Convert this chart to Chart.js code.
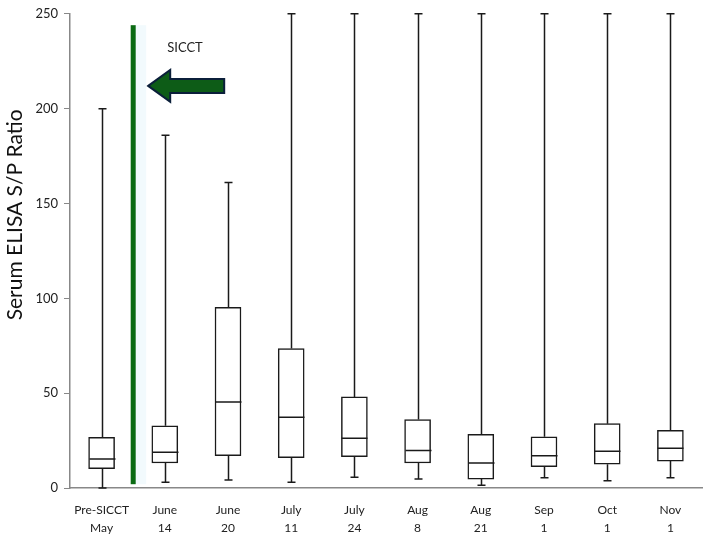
<!DOCTYPE html>
<html>
<head>
<meta charset="utf-8">
<script src="https://cdn.jsdelivr.net/npm/chart.js@4"></script>
<style>
  html, body { margin: 0; background: #fff; }
  #wrap { width: 706px; height: 534px; }
</style>
</head>
<body>
<div id="wrap"><canvas id="chart"></canvas></div>
<script>
// Datum (x-axeln, två rader per etikett)
const labels = [
  ["Pre-SICCT", "May"], ["June", "14"], ["June", "20"], ["July", "11"], ["July", "24"],
  ["Aug", "8"], ["Aug", "21"], ["Sep", "1"], ["Oct", "1"], ["Nov", "1"]
];

// boxplot-värden
const minVals = [0, 3, 4.2, 3, 5.7, 4.7, 1.4, 5.4, 3.8, 5.4];
const q1Vals  = [10.2, 13.2, 17, 16, 16.5, 13.2, 4.7, 11.3, 12.5, 14.2];
const medVals = [15.3, 18.9, 45.3, 37.3, 26.2, 19.8, 13.2, 17, 19.4, 21];
const q3Vals  = [26.7, 32.8, 95.3, 73.5, 48, 36.1, 28.3, 27, 33.9, 30.4];
const maxVals = [200, 186, 161, 250, 250, 250, 250, 250, 250, 250];

const yTicks = [0, 50, 100, 150, 200, 250];

// SICCT-markering: linjens utsträckning och pilens höjd (i y-värden)
const sicctLine = [2, 244];
const sicctArrowY = 212;
const sicctTextY = 232;

const FONT = "Lato, 'Open Sans', sans-serif";

// ritar morrhår, medianer och SICCT-markeringen med diagrammets skalor
const boxExtras = {
  id: 'boxExtras',
  beforeDatasetsDraw(chart) {
    const { ctx, scales: { x, y } } = chart;
    const lineX = (x.getPixelForValue(0) + x.getPixelForValue(1)) / 2;
    const yTop = y.getPixelForValue(sicctLine[1]);
    const yBot = y.getPixelForValue(sicctLine[0]);
    ctx.save();
    // svag ljusblå skugga
    ctx.fillStyle = '#f2fafd';
    ctx.fillRect(lineX + 2, yTop, 11, yBot - yTop);
    // grön linje
    ctx.fillStyle = '#0b6b14';
    ctx.fillRect(lineX - 2.5, yTop, 5, yBot - yTop);

    // pil
    const ay = y.getPixelForValue(sicctArrowY);
    ctx.beginPath();
    ctx.moveTo(lineX + 15, ay);
    ctx.lineTo(lineX + 37, ay - 16);
    ctx.lineTo(lineX + 37, ay - 7);
    ctx.lineTo(lineX + 91, ay - 7);
    ctx.lineTo(lineX + 91, ay + 7);
    ctx.lineTo(lineX + 37, ay + 7);
    ctx.lineTo(lineX + 37, ay + 16);
    ctx.closePath();
    ctx.fillStyle = '#0d5c17';
    ctx.fill();
    ctx.lineWidth = 2;
    ctx.strokeStyle = '#0b1f3a';
    ctx.stroke();

    ctx.fillStyle = '#222';
    ctx.font = '13px ' + FONT;
    ctx.textAlign = 'left';
    ctx.textBaseline = 'middle';
    ctx.fillText('SICCT', lineX + 34, y.getPixelForValue(sicctTextY));
    ctx.restore();
  },
  afterDatasetsDraw(chart) {
    const { ctx, scales: { x, y } } = chart;
    const half = chart.getDatasetMeta(0).data[0].width / 2;
    ctx.save();
    ctx.strokeStyle = '#1a1a1a';
    ctx.lineWidth = 1.5;
    labels.forEach((_, i) => {
      const cx = Math.round(x.getPixelForValue(i)) + 0.5;
      ctx.beginPath();
      // övre morrhår
      ctx.moveTo(cx, y.getPixelForValue(q3Vals[i]));
      ctx.lineTo(cx, y.getPixelForValue(maxVals[i]));
      ctx.moveTo(cx - 4, y.getPixelForValue(maxVals[i]));
      ctx.lineTo(cx + 4, y.getPixelForValue(maxVals[i]));
      // nedre morrhår
      ctx.moveTo(cx, y.getPixelForValue(q1Vals[i]));
      ctx.lineTo(cx, y.getPixelForValue(minVals[i]));
      ctx.moveTo(cx - 4, y.getPixelForValue(minVals[i]));
      ctx.lineTo(cx + 4, y.getPixelForValue(minVals[i]));
      // median
      ctx.moveTo(cx - half, y.getPixelForValue(medVals[i]));
      ctx.lineTo(cx + half, y.getPixelForValue(medVals[i]));
      ctx.stroke();
    });
    ctx.restore();
  }
};

// y-axelns titel (sitter högre än mitten i originalet)
const yTitle = {
  id: 'yTitle',
  afterDraw(chart) {
    const { ctx, scales: { y } } = chart;
    ctx.save();
    ctx.translate(15, y.getPixelForValue(144));
    ctx.rotate(-Math.PI / 2);
    ctx.font = '21px ' + FONT;
    ctx.fillStyle = '#111';
    ctx.textAlign = 'center';
    ctx.textBaseline = 'middle';
    ctx.fillText('Serum ELISA S/P Ratio', 0, 0);
    ctx.restore();
  }
};

new Chart(document.getElementById('chart'), {
  type: 'bar',
  data: {
    labels,
    datasets: [{
      data: q1Vals.map((q, i) => [q, q3Vals[i]]),
      backgroundColor: '#fff',
      borderColor: '#1a1a1a',
      borderWidth: 1.5,
      borderSkipped: false,
      barThickness: 26
    }]
  },
  options: {
    responsive: true,
    maintainAspectRatio: false,
    animation: false,
    layout: { padding: { left: 0, right: 4, top: 8, bottom: 0 } },
    plugins: { legend: { display: false }, tooltip: { enabled: false } },
    scales: {
      x: {
        grid: { display: false },
        border: { color: '#888', width: 1.5 },
        ticks: {
          color: '#222',
          font: { family: FONT, size: 12, lineHeight: 1.5 },
          padding: 5,
          maxRotation: 0,
          autoSkip: false
        },
        afterFit: s => { s.height = 46; }
      },
      y: {
        min: 0,
        max: 250,
        afterBuildTicks: s => { s.ticks = yTicks.map(v => ({ value: v })); },
        grid: { drawOnChartArea: false, drawTicks: true, tickLength: 6, color: '#888' },
        border: { color: '#888', width: 1.5 },
        ticks: { color: '#222', font: { family: FONT, size: 13 }, padding: 6 },
        afterFit: s => { s.width = 70; }
      }
    }
  },
  plugins: [boxExtras, yTitle]
});
</script>
</body>
</html>
